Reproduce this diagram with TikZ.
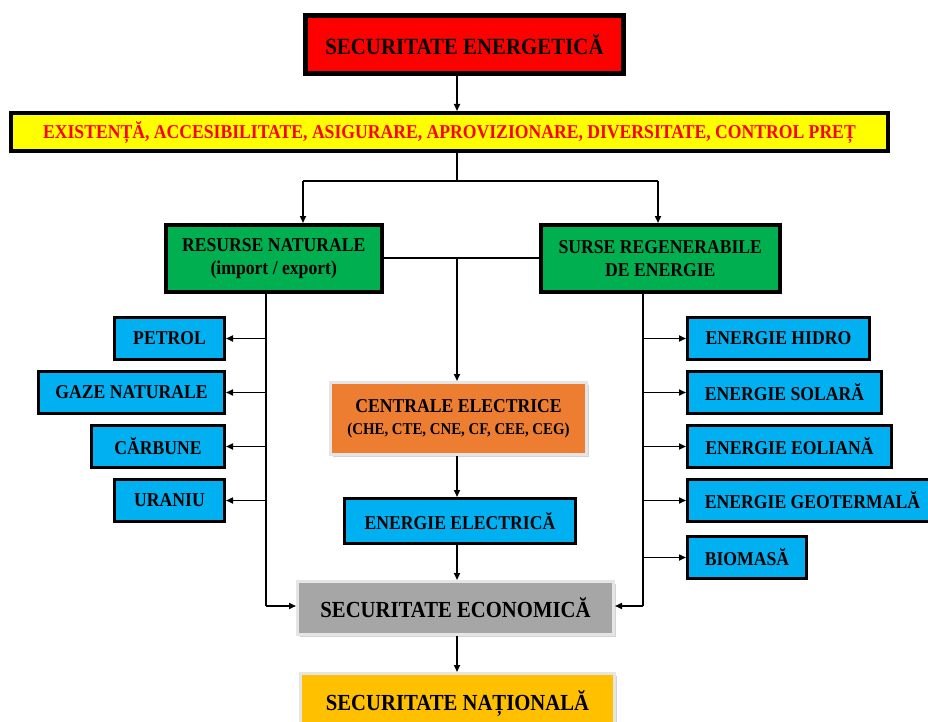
\documentclass[tikz,border=0pt]{standalone}
\usepackage{fontspec}
\setmainfont{Liberation Serif}[FakeStretch=0.9]
\usepackage{tikz}
\usetikzlibrary{arrows.meta}
\usetikzlibrary{shadows}

\definecolor{topred}{HTML}{FF0000}
\definecolor{condyellow}{HTML}{FFFF00}
\definecolor{srcgreen}{HTML}{00B050}
\definecolor{itemblue}{HTML}{00B0F0}
\definecolor{plantorange}{HTML}{ED7D31}
\definecolor{ecogray}{HTML}{A6A6A6}
\definecolor{natgold}{HTML}{FFC000}

\begin{document}
\begin{tikzpicture}[x=1pt,y=1pt,yscale=-1,
  box/.style={draw=black, anchor=north west, inner sep=0pt, align=center,
    font=\bfseries\fontsize{19.6}{23}\selectfont,
    drop shadow={opacity=0.3,shadow xshift=1.2pt,shadow yshift=-1.2pt}},
  softbox/.style={box, draw=black!10, line width=3pt,
    drop shadow={opacity=0.35,shadow xshift=2pt,shadow yshift=-2pt}},
  item/.style={box, fill=itemblue, line width=3pt, minimum height=42pt},
  link/.style={line width=1.6pt},
  arr/.style={link, -{Triangle[length=7pt,width=6pt]}}]
\clip (0,0) rectangle (928,722);

% top of the chain
\node[box, fill=topred, line width=5pt, minimum width=318pt, minimum height=58pt,
  font=\bfseries\fontsize{23.2}{25}\selectfont] (secen) at (303,13) {SECURITATE ENERGETICĂ};
\node[box, fill=condyellow, line width=4pt, minimum width=877pt, minimum height=38pt,
  text=red, font=\bfseries\fontsize{19.6}{21}\selectfont] (cond) at (9,111)
  {EXISTENȚĂ, ACCESIBILITATE, ASIGURARE, APROVIZIONARE, DIVERSITATE, CONTROL PREȚ};

% the two groups of sources
\node[box, fill=srcgreen, line width=3.5pt, minimum width=216pt, minimum height=67pt] (natural) at (164,223)
  {RESURSE NATURALE\\(import / export)};
\node[box, fill=srcgreen, line width=3.5pt, minimum width=239pt, minimum height=67pt] (regen) at (539,223)
  {SURSE REGENERABILE\\DE ENERGIE};

% natural resources
\node[item, minimum width=110pt] (petrol) at (113,316) {PETROL};
\node[item, minimum width=186pt] (gaze) at (37,370) {GAZE NATURALE};
\node[item, minimum width=133pt] (carbune) at (90,424) {CĂRBUNE};
\node[item, minimum width=110pt] (uraniu) at (113,478) {URANIU};

% renewable sources
\node[item, minimum width=182pt] (hidro) at (686,316) {ENERGIE HIDRO};
\node[item, minimum width=194pt] (solar) at (686,370) {ENERGIE SOLARĂ};
\node[item, minimum width=204pt] (eolian) at (686,424) {ENERGIE EOLIANĂ};
\node[item, minimum width=250pt] (geo) at (686,478) {ENERGIE GEOTERMALĂ};
\node[item, minimum width=119pt] (biomasa) at (686,535) {BIOMASĂ};

% middle column
\node[softbox, fill=plantorange, minimum width=256pt, minimum height=72pt] (centrale) at (329,381)
  {CENTRALE ELECTRICE\\[-1pt]{\fontsize{16.5}{18}\selectfont (CHE, CTE, CNE, CF, CEE, CEG)}};
\node[item, minimum width=231pt, minimum height=45pt] (electrica) at (343,497) {ENERGIE ELECTRICĂ};
\node[softbox, fill=ecogray, minimum width=316pt, minimum height=53pt,
  font=\bfseries\fontsize{23}{25}\selectfont] (secec) at (296,580) {SECURITATE ECONOMICĂ};
\node[softbox, fill=natgold, minimum width=314pt, minimum height=60pt,
  font=\bfseries\fontsize{23}{25}\selectfont] (secnat) at (299,672) {SECURITATE NAȚIONALĂ};

\coordinate (spine) at (457,0);
\coordinate (fork) at (457,181);
\coordinate (lfork) at (303,181);
\coordinate (rfork) at (658,181);
\coordinate (lbus) at (266,606);
\coordinate (rbus) at (643,606);

\draw[arr] (secen.south -| spine) -- (cond.north -| spine);
\draw[link] (cond.south -| spine) -- (fork);
\draw[link] (lfork) -- (rfork);
\draw[arr] (lfork) -- (lfork |- natural.north);
\draw[arr] (rfork) -- (rfork |- regen.north);

% both groups feed the power plants
\draw[link] (natural.east) -- (regen.west);
\draw[arr] (natural.east -| spine) -- (centrale.north -| spine);
\draw[arr] (centrale.south -| spine) -- (electrica.north -| spine);
\draw[arr] (electrica.south -| spine) -- (secec.north -| spine);
\draw[arr] (secec.south -| spine) -- (secnat.north -| spine);

% side buses
\draw[link] (natural.south -| lbus) -- (lbus);
\draw[arr] (lbus) -- (secec.west |- lbus);
\foreach \n in {petrol,gaze,carbune,uraniu}
  \draw[arr] (\n.east -| lbus) -- (\n.east);
\draw[link] (regen.south -| rbus) -- (rbus);
\draw[arr] (rbus) -- (secec.east |- rbus);
\foreach \n in {hidro,solar,eolian,geo,biomasa}
  \draw[arr] (\n.west -| rbus) -- (\n.west);
\end{tikzpicture}
\end{document}
